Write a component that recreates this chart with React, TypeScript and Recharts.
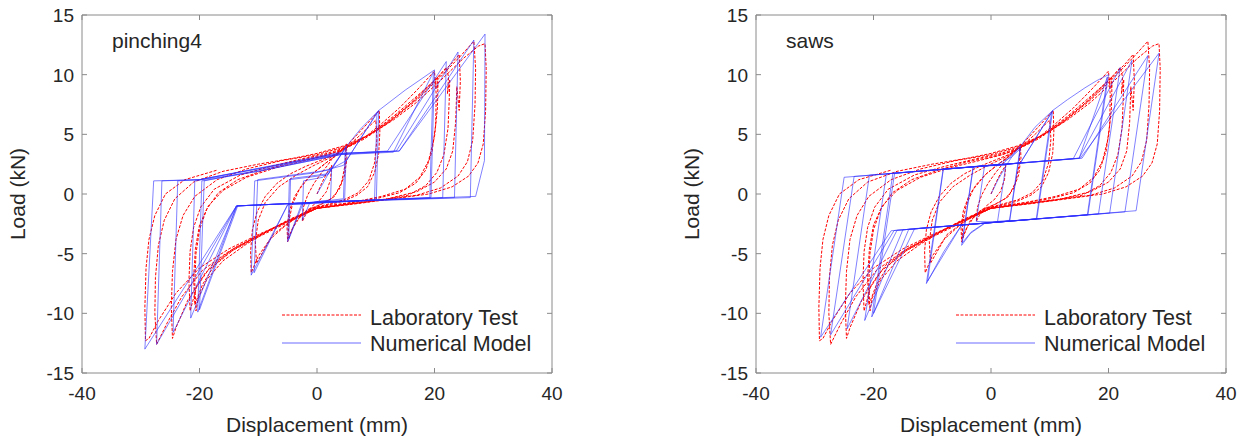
import React from 'react';
import { LineChart, Line, XAxis, YAxis, Legend } from 'recharts';

type Pt = [number, number];

const FONT = '"Liberation Sans", Arial, Helvetica, sans-serif';
const AXIS = '#8a8a8a';
const TXT = '#262626';
const RED = '#ff0000';
const BLUE = '#2b2bff';

const xTicks = [-40, -20, 0, 20, 40];
const yTicks = [-15, -10, -5, 0, 5, 10, 15];
const xDomain: [number, number] = [-40, 40];
const yDomain: [number, number] = [-15, 15];
const seriesNames = ['Laboratory Test', 'Numerical Model'];
const panelTitles = ['pinching4', 'saws'];
const xLabel = 'Displacement (mm)';
const yLabel = 'Load (kN)';

// ---------- Laboratory test (same specimen in both panels) ----------
const labCycle1: Pt[] = [[0,0],[0.8,0.9],[1.6,1.7],[2.5,2.4],[2.3,1.2],[1.6,0.2],[0.5,-0.5],[-0.8,-1.0],[-1.8,-1.6],[-2.5,-2.3],[-2.3,-1.1],[-1.6,-0.1],[-0.5,0.9],[0.8,1.8],[1.8,2.4]];
const labCycle2: Pt[] = [[2.5,2.9],[3.8,3.5],[5,4.2],[5.1,3.0],[4.7,1.6],[3.8,0.4],[2.4,-0.4],[0.5,-0.9],[-1.5,-1.4],[-3,-2.0],[-4.2,-2.9],[-5,-4.0],[-5.1,-2.8],[-4.7,-1.4],[-3.8,-0.2],[-2.5,0.8],[-0.8,1.7],[1,2.4],[2.8,3.1]];
const labCycle2b: Pt[] = [[4.9,3.9],[4.8,2.5],[4.2,1.0],[3,-0.2],[1,-0.8],[-1.5,-1.3],[-3.5,-2.2],[-4.9,-3.7],[-4.8,-2.3],[-4.2,-0.9],[-3,0.4],[-1,1.6],[1.5,2.6],[3.5,3.3]];
const labCycle3: Pt[] = [[5,4.0],[6.5,4.8],[8,5.6],[9.5,6.4],[10.6,7.0],[10.7,5.2],[10.5,3.4],[9.8,1.8],[8.6,0.6],[6.8,-0.1],[4.5,-0.6],[2,-0.9],[-0.5,-1.2],[-3,-1.8],[-5.5,-2.7],[-8,-3.8],[-10,-5.2],[-11.2,-6.6],[-11.3,-4.8],[-11,-3.0],[-10.2,-1.5],[-8.8,-0.2],[-6.8,0.9],[-4.5,1.7],[-2,2.3],[0.5,2.8],[3,3.3]];
const labCycle3b: Pt[] = [[5,3.9],[7.5,5.0],[10,6.2],[10.2,4.6],[9.8,2.6],[8.8,1.1],[7,0.1],[4.5,-0.5],[1.5,-0.9],[-1.5,-1.3],[-4.5,-2.3],[-7.5,-3.4],[-10.3,-5.8],[-10.5,-4.0],[-10,-2.2],[-8.8,-0.7],[-6.5,0.6],[-3.5,1.6],[-0.5,2.4],[2.5,3.1]];
const labCycle4: Pt[] = [[5,3.9],[8,4.7],[11,5.9],[14,7.2],[17,8.7],[20,10.3],[20.3,8.3],[20.2,5.8],[19.6,3.6],[18.5,2.0],[16.8,0.9],[14,0.1],[10,-0.4],[5,-0.8],[0,-1.2],[-4,-2.0],[-8,-3.0],[-12,-4.2],[-16,-5.6],[-18.8,-7.2],[-20.2,-8.7],[-20.6,-9.8],[-20.8,-7.5],[-20.6,-5.0],[-20,-3.0],[-18.8,-1.3],[-16.8,0.1],[-13.5,1.2],[-9,2.0],[-4,2.7],[0,3.1]];
const labCycle4b: Pt[] = [[4,3.6],[8,4.6],[12,5.9],[16,7.6],[19.5,9.3],[20.5,9.8],[20.4,8.8],[20.6,9.4],[20.5,7.2],[20,4.8],[19,2.8],[17.5,1.4],[15,0.4],[11,-0.2],[6,-0.7],[0,-1.1],[-5,-2.2],[-10,-3.5],[-14,-4.6],[-17.5,-6.0],[-19.5,-7.6],[-20.8,-9.3],[-21,-7],[-20.7,-4.6],[-20,-2.6],[-18.5,-1.0],[-16,0.3],[-12,1.4],[-7,2.2],[-2,2.8],[2,3.3]];
const labCycle5: Pt[] = [[5,3.9],[9,5.0],[13,6.5],[17,8.2],[20,9.5],[22,10.6],[22.4,9.8],[22.2,8.4],[22.6,9.6],[22.5,7.8],[22.3,5.5],[21.6,3.3],[20.4,1.8],[18.5,0.7],[15.5,-0.1],[11,-0.5],[6,-0.8],[0,-1.2],[-5,-2.3],[-10,-3.5],[-14,-4.5],[-18,-6.0],[-20.5,-7.8],[-21.6,-9.8],[-21.8,-7.3],[-21.6,-4.8],[-21,-2.8],[-19.8,-1.1],[-17.5,0.4],[-13,1.6],[-8,2.3],[-3,2.9],[1,3.3]];
const labCycle6: Pt[] = [[5,3.9],[9,5.0],[13,6.4],[17,8.0],[20.5,9.7],[23,11.0],[24.2,11.7],[24.4,9.5],[24.2,7.0],[23.8,9.0],[23.6,6.0],[23.1,3.6],[22,2.1],[20,1.0],[17,0.2],[12,-0.4],[6,-0.8],[0,-1.2],[-5,-2.4],[-10,-3.6],[-15,-4.9],[-19,-6.6],[-22,-8.9],[-24,-11.2],[-24.6,-12.1],[-24.8,-9.5],[-24.6,-6.5],[-24,-3.8],[-22.8,-1.8],[-20.8,-0.2],[-17,1.2],[-12,2.1],[-6,2.8],[0,3.3]];
const labCycle7: Pt[] = [[5,4.0],[9,5.0],[13,6.3],[17,7.9],[21,9.8],[24.5,11.6],[26.7,12.8],[27,10.5],[26.9,7.5],[26.5,4.5],[25.6,2.7],[24,1.5],[21,0.5],[17,-0.1],[11,-0.5],[5,-0.9],[0,-1.2],[-5,-2.3],[-10,-3.5],[-15,-4.8],[-19.5,-6.4],[-23,-8.6],[-25.5,-10.8],[-27.3,-12.6],[-27.6,-10],[-27.5,-7],[-27,-4.3],[-26,-2.2],[-24.2,-0.4],[-21,1.0],[-16,1.9],[-10,2.5],[-4,3.0],[0,3.4]];
const labCycle8: Pt[] = [[5,4.1],[9,5.0],[13,6.2],[17,7.7],[21,9.5],[25,11.4],[27.5,12.4],[28.6,12.6],[28.8,10.5],[28.7,7.0],[28.3,4.2],[27.4,2.6],[25.8,1.5],[23,0.6],[19,0],[13,-0.4],[7,-0.8],[0,-1.2],[-5,-2.3],[-10,-3.4],[-15,-4.6],[-20,-6.2],[-24,-8.3],[-27,-10.6],[-28.6,-12.1],[-29.2,-12.3],[-29.3,-9.5],[-29.1,-6.2],[-28.6,-3.8],[-27.6,-1.8],[-25.8,0],[-22.5,1.2],[-17,2.0]];

// ---------- Numerical model: pinching4 ----------
const p4Cycle1: Pt[] = [[0,0],[2.5,2.2],[2.3,-0.5],[-1.2,-0.7],[-2.5,-2.2],[-2.3,1.1],[1,1.4],[2.5,2.2]];
const p4Cycle2: Pt[] = [[5,4.0],[4.7,-0.5],[-2.6,-0.8],[-5,-4.0],[-4.7,1.2],[1.8,1.6],[4.8,3.8],[4.5,-0.4],[-2.4,-0.8],[-4.8,-3.8],[-4.5,1.3],[2,1.7],[5,4.0]];
const p4Cycle3: Pt[] = [[7.5,5.5],[10.5,7.0],[10.1,-0.5],[-5,-0.9],[-11.2,-6.8],[-10.6,1.1],[0,1.8],[4.5,2.4],[10.2,6.8],[9.8,-0.5],[-5,-0.9],[-10.7,-6.6],[-10.1,1.2],[2,2.0],[5,2.8],[10.5,7.0]];
const p4Cycle4: Pt[] = [[15,8.7],[20,10.4],[19.4,-0.3],[0,-0.7],[-13.7,-1.0],[-20.3,-9.9],[-19.6,1.1],[-10,1.9],[4,3.3],[13,3.5],[19.8,10.2],[19.2,-0.3],[0,-0.7],[-13.5,-1.0],[-20,-9.7],[-19.2,1.1],[-10,2.0],[4.5,3.4],[12,3.6],[22,11.1]];
const p4Cycle5: Pt[] = [[21.4,-0.3],[0,-0.7],[-13.6,-1.0],[-21.5,-10.4],[-20.8,1.1],[-10,1.9],[4,3.3],[13.5,3.6],[24,11.9]];
const p4Cycle6: Pt[] = [[23.4,-0.3],[0,-0.7],[-13.7,-1.0],[-24.5,-11.6],[-23.7,1.1],[-20,1.2],[4,3.4],[14,3.6],[26.7,12.9]];
const p4Cycle7: Pt[] = [[26.1,-0.3],[0,-0.7],[-13.7,-1.0],[-27.3,-12.6],[-26.4,1.1],[-20,1.2],[4,3.4],[14,3.6],[28.6,13.4]];
const p4Cycle8: Pt[] = [[28.5,2.8],[27,-0.2],[0,-0.7],[-13.7,-1.0],[-29.3,-13.0],[-27.8,1.1],[-20,1.2],[4,3.5]];

// ---------- Numerical model: saws ----------
const swCycle1: Pt[] = [[0,0],[1.2,1.2],[2.5,2.3],[1.1,-2.36],[-2.5,-2.3],[-1.1,2.36],[2.6,2.4],[3.8,3.3]];
const swCycle2: Pt[] = [[5,4.0],[3.13,-2.27],[-1,-2.44],[-3.5,-3.3],[-5,-4.3],[-3.04,2.28],[1,2.45],[3.5,3.1],[5,3.8],[3.2,-2.2],[-1,-2.4],[-3.4,-3.2],[-4.9,-4.1],[-3,2.3],[2,2.5],[5,4.0]];
const swCycle3: Pt[] = [[7.5,5.6],[10.5,7.0],[7.8,-2.09],[-5,-2.6],[-8,-4.8],[-11,-7.5],[-8.15,2.07],[5,2.6],[10.3,6.8],[7.7,-2.1],[-5,-2.6],[-10.8,-7.3],[-8.1,2.1],[5,2.6],[10.5,7.0]];
const swCycle4: Pt[] = [[13,7.9],[16,8.9],[18,9.5],[20,10.0],[16.5,-1.74],[-13,-2.9],[-20.3,-10.3],[-16.7,1.73],[15,3.0],[19.8,9.8],[16.4,-1.75],[-14,-2.96],[-20,-10.0],[-16.4,1.75],[14,2.96],[22,10.6]];
const swCycle5: Pt[] = [[18.3,-1.67],[-15,-3.0],[-21.5,-10.6],[-17.8,1.69],[15,3.0],[24,11.2]];
const swCycle6: Pt[] = [[20.2,-1.6],[-16,-3.04],[-24.5,-11.3],[-20.7,1.57],[15.5,3.0],[26.7,11.6]];
const swCycle7: Pt[] = [[22.8,-1.5],[-16.5,-3.06],[-27.3,-11.8],[-23.3,1.47],[15.2,3.0],[28.6,11.8]];
const swCycle8: Pt[] = [[24.7,-1.4],[-17,-3.08],[-29,-12.0],[-25,1.4],[-18.6,1.65],[6.4,2.65]];

const toRows = (cycles: Pt[][]) => cycles.flat().map(([x, y]) => ({ x, y }));

const labRows = toRows([labCycle1, labCycle2, labCycle2b, labCycle3, labCycle3b, labCycle4, labCycle4b, labCycle5, labCycle6, labCycle7, labCycle8]);
const pinching4Rows = toRows([p4Cycle1, p4Cycle2, p4Cycle3, p4Cycle4, p4Cycle5, p4Cycle6, p4Cycle7, p4Cycle8]);
const sawsRows = toRows([swCycle1, swCycle2, swCycle3, swCycle4, swCycle5, swCycle6, swCycle7, swCycle8]);

const TICK_LEN = 5;

const LeftTick = (p: any) => (
  <g>
    <line x1={p.x} x2={p.x + TICK_LEN} y1={p.y} y2={p.y} stroke={AXIS} />
    <text x={p.x - 8} y={p.y} dy="0.36em" textAnchor="end" fontSize={19} fill={TXT} fontFamily={FONT}>{p.payload.value}</text>
  </g>
);
const RightTick = (p: any) => (
  <line x1={p.x} x2={p.x - TICK_LEN} y1={p.y} y2={p.y} stroke={AXIS} />
);
const BottomTick = (p: any) => (
  <g>
    <line x1={p.x} x2={p.x} y1={p.y} y2={p.y - TICK_LEN} stroke={AXIS} />
    <text x={p.x} y={p.y + 27} textAnchor="middle" fontSize={19} fill={TXT} fontFamily={FONT}>{p.payload.value}</text>
  </g>
);
const TopTick = (p: any) => (
  <line x1={p.x} x2={p.x} y1={p.y} y2={p.y + TICK_LEN} stroke={AXIS} />
);

const LegendBox = () => (
  <div style={{ position: 'relative', width: 270, height: 60, fontFamily: FONT, fontSize: 21.5, color: TXT }}>
    <svg width={80} height={60} style={{ position: 'absolute', left: 0, top: 0 }}>
      <line x1={0} x2={79} y1={14} y2={14} stroke={RED} strokeWidth={1} strokeDasharray="3 1.5" />
      <line x1={0} x2={79} y1={42} y2={42} stroke={BLUE} strokeWidth={0.7} />
    </svg>
    <span style={{ position: 'absolute', left: 88, top: 3, lineHeight: '28px', whiteSpace: 'nowrap' }}>{seriesNames[0]}</span>
    <span style={{ position: 'absolute', left: 88, top: 29, lineHeight: '28px', whiteSpace: 'nowrap' }}>{seriesNames[1]}</span>
  </div>
);

type PanelProps = {
  title: string;
  model: { x: number; y: number }[];
  left: number;
  width: number;
  marginLeft: number;
  marginRight: number;
};

function Panel({ title, model, left, width, marginLeft, marginRight }: PanelProps) {
  const plotLeft = marginLeft + 50;
  return (
    <div style={{ position: 'absolute', left, top: 0, width, height: 438 }}>
      <LineChart width={width} height={438} margin={{ top: 10, right: marginRight, bottom: 35, left: marginLeft }}>
        <XAxis
          xAxisId="b"
          type="number"
          dataKey="x"
          domain={xDomain}
          ticks={xTicks}
          interval={0}
          orientation="bottom"
          height={30}
          tickSize={0}
          tickMargin={0}
          tickLine={false}
          axisLine={{ stroke: AXIS }}
          tick={<BottomTick />}
          allowDataOverflow
          label={{ value: xLabel, position: 'bottom', offset: 14, fontSize: 21, fill: TXT, fontFamily: FONT }}
        />
        <XAxis
          xAxisId="t"
          type="number"
          dataKey="x"
          domain={xDomain}
          ticks={xTicks}
          interval={0}
          orientation="top"
          height={5}
          tickSize={0}
          tickMargin={0}
          tickLine={false}
          axisLine={{ stroke: AXIS }}
          tick={<TopTick />}
          allowDataOverflow
        />
        <YAxis
          yAxisId="l"
          type="number"
          domain={yDomain}
          ticks={yTicks}
          interval={0}
          width={50}
          tickSize={0}
          tickMargin={0}
          tickLine={false}
          axisLine={{ stroke: AXIS }}
          tick={<LeftTick />}
          allowDataOverflow
          label={{ value: yLabel, angle: -90, position: 'left', offset: 14, fontSize: 21, fill: TXT, fontFamily: FONT, style: { textAnchor: 'middle' } }}
        />
        <YAxis
          yAxisId="r"
          type="number"
          orientation="right"
          domain={yDomain}
          ticks={yTicks}
          interval={0}
          width={10}
          tickSize={0}
          tickMargin={0}
          tickLine={false}
          axisLine={{ stroke: AXIS }}
          tick={<RightTick />}
          allowDataOverflow
        />
        <Line
          xAxisId="b"
          yAxisId="l"
          data={labRows}
          dataKey="y"
          name={seriesNames[0]}
          type="linear"
          stroke={RED}
          strokeWidth={1}
          strokeDasharray="3 1.5"
          dot={false}
          activeDot={false}
          isAnimationActive={false}
        />
        <Line
          xAxisId="b"
          yAxisId="l"
          data={model}
          dataKey="y"
          name={seriesNames[1]}
          type="linear"
          stroke={BLUE}
          strokeWidth={0.6}
          dot={false}
          activeDot={false}
          isAnimationActive={false}
        />
        <Legend
          layout="vertical"
          align="center"
          verticalAlign="middle"
          content={<LegendBox />}
          wrapperStyle={{ left: plotLeft + 200, top: 301, width: 270, height: 60 }}
        />
      </LineChart>
      <div
        style={{
          position: 'absolute',
          left: plotLeft + 30,
          top: 30,
          fontFamily: FONT,
          fontSize: 21,
          lineHeight: '21px',
          color: TXT,
          whiteSpace: 'nowrap',
        }}
      >
        {title}
      </div>
    </div>
  );
}

export default function App() {
  return (
    <div style={{ position: 'absolute', left: 0, top: 0, width: 1243, height: 438, background: '#fff', overflow: 'hidden' }}>
      <Panel title={panelTitles[0]} model={pinching4Rows} left={0} width={620} marginLeft={32} marginRight={58} />
      <Panel title={panelTitles[1]} model={sawsRows} left={620} width={623} marginLeft={86} marginRight={7} />
    </div>
  );
}
